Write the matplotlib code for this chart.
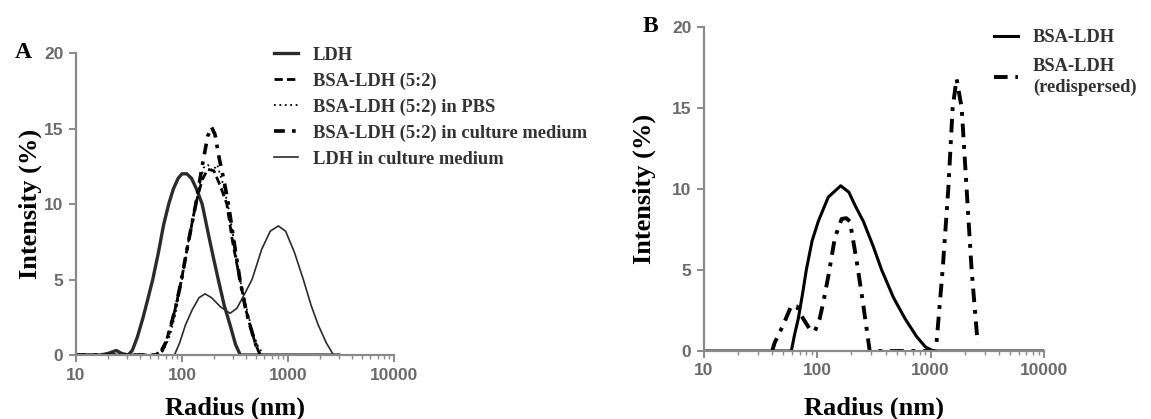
"""DLS size distributions, LDH vs BSA-LDH (panels A and B)."""
import matplotlib

matplotlib.use("Agg")
import matplotlib.pyplot as plt

SERIF = "Liberation Serif"
SANS = "Liberation Sans"
TICK_GREY = "#6a6a6a"
AXIS_GREY = "#8a8a8a"
DARK = "#2b2b2b"

# ---- Panel A -------------------------------------------------------------
ldh_r = [10, 17, 20, 24, 27, 31, 34, 38, 43, 48, 53, 60, 67, 75, 83, 92,
         100, 111, 123, 137, 155, 180, 200, 220, 250, 284, 320, 355, 3000]
ldh_i = [0, 0, 0.1, 0.3, 0.1, 0, 0.3, 1.2, 2.5, 3.8, 5.0, 6.8, 8.6, 10.0,
         11.0, 11.7, 12.0, 12.0, 11.7, 11.0, 10.0, 7.8, 6.3, 5.0, 3.3, 2.0,
         0.7, 0, 0]

bsa_r = [10, 55, 62, 70, 79, 88, 99, 115, 135, 155, 175, 200, 230, 265, 300,
         352, 400, 437, 490, 545]
bsa_i = [0, 0, 0.2, 0.8, 2.0, 3.3, 5.0, 7.5, 10.0, 11.6, 12.3, 12.2, 11.2,
         10.0, 7.5, 5.0, 3.0, 2.0, 0.8, 0]

pbs_r = [10, 60, 68, 77, 86, 99, 115, 135, 150, 160, 175, 195, 215, 240,
         274, 310, 352, 410, 460, 520, 590]
pbs_i = [0, 0, 0.4, 1.3, 2.6, 4.8, 7.5, 10.0, 11.6, 12.4, 12.6, 12.2, 12.6,
         11.5, 9.8, 7.5, 5.0, 3.0, 1.6, 0.6, 0]

cult_r = [10, 58, 65, 72, 79, 88, 99, 115, 135, 155, 175, 190, 205, 225,
          250, 274, 310, 352, 400, 437, 490, 545]
cult_i = [0, 0, 0.3, 1.0, 2.0, 3.3, 5.0, 7.5, 10.0, 12.5, 14.5, 15.1, 14.6,
          13.0, 11.5, 10.0, 7.5, 5.0, 3.0, 2.0, 0.8, 0]

ldh_cult_r = [10, 85, 95, 108, 125, 145, 165, 190, 230, 284, 330, 380, 458,
              565, 680, 811, 950, 1150, 1396, 1650, 1927, 2300, 2690, 3000]
ldh_cult_i = [0, 0, 0.8, 2.0, 3.0, 3.8, 4.05, 3.8, 3.2, 2.76, 3.1, 3.9, 5.0,
              7.0, 8.2, 8.55, 8.2, 6.8, 5.0, 3.3, 2.0, 0.8, 0, 0]

labels_a = ["LDH", "BSA-LDH (5:2)", "BSA-LDH (5:2) in PBS",
            "BSA-LDH (5:2) in culture medium", "LDH in culture medium"]

# ---- Panel B -------------------------------------------------------------
bsa_b_r = [10, 59, 63, 68, 74, 80, 90, 102, 125, 161, 190, 215, 255, 310,
           370, 470, 594, 750, 900, 1056, 10000]
bsa_b_i = [0, 0, 1.0, 2.0, 3.5, 5.0, 6.8, 8.0, 9.5, 10.2, 9.8, 9.0, 8.0, 6.5,
           5.0, 3.3, 2.0, 0.9, 0.25, 0, 0]

redisp_r = [40, 42, 50, 59, 66, 75, 85, 95, 105, 113, 125, 143, 164, 180,
            194, 222, 254, 290, 750, 1100, 1130, 1276, 1432, 1564, 1695,
            1880, 2078, 2300, 2600]
redisp_i = [0, 0.5, 1.6, 2.8, 2.75, 2.0, 1.4, 1.2, 2.0, 3.0, 4.6, 7.0, 8.15,
            8.2, 8.0, 5.6, 2.9, 0, 0, 0, 0.6, 5.0, 10.0, 15.0, 16.8, 15.0,
            10.0, 5.0, 0.5]

labels_b = ["BSA-LDH", "BSA-LDH\n(redispersed)"]


def style_axes(ax, ypad, xpad):
    ax.set_xscale("log")
    ax.set_xlim(10, 10000)
    ax.set_ylim(0, 20)
    ax.set_yticks([0, 5, 10, 15, 20])
    ax.set_xticks([10, 100, 1000, 10000])
    ax.set_xticklabels(["10", "100", "1000", "10000"])
    for side in ("top", "right"):
        ax.spines[side].set_visible(False)
    for side in ("left", "bottom"):
        ax.spines[side].set_color(AXIS_GREY)
        ax.spines[side].set_linewidth(1.6)
    ax.tick_params(which="major", length=5, width=1.4, color=AXIS_GREY,
                   labelsize=12.5, labelcolor=TICK_GREY, pad=4)
    ax.tick_params(which="minor", axis="x", length=3, width=1.0,
                   color=AXIS_GREY)
    for lab in ax.get_xticklabels() + ax.get_yticklabels():
        lab.set_fontfamily(SANS)
        lab.set_fontweight("bold")
    ax.set_xlabel("Radius (nm)", fontfamily=SERIF, fontweight="bold",
                  fontsize=19, labelpad=xpad)
    ax.set_ylabel("Intensity (%)", fontfamily=SERIF, fontweight="bold",
                  fontsize=19, labelpad=ypad)


def add_legend(fig, handles, labels, anchor, spacing):
    leg = fig.legend(handles, labels, loc="upper left", bbox_to_anchor=anchor,
                     frameon=False, borderpad=0, borderaxespad=0,
                     handlelength=1.3, handletextpad=0.8,
                     labelspacing=spacing,
                     prop={"family": SERIF, "weight": "bold", "size": 13.3},
                     labelcolor="#333333")
    for t in leg.get_texts():
        t.set_linespacing(1.3)
    return leg


def main() -> None:
    fig = plt.figure(figsize=(11.51, 4.19), dpi=100)
    ax_a = fig.add_axes([0.0660, 0.1527, 0.2763, 0.7208])
    ax_b = fig.add_axes([0.6116, 0.1623, 0.2954, 0.7733])

    # Panel A
    h1, = ax_a.plot(ldh_r, ldh_i, color=DARK, lw=2.4)
    h2, = ax_a.plot(bsa_r, bsa_i, color="black", lw=2.0,
                    linestyle=(0, (3, 1.5)))
    h3, = ax_a.plot(pbs_r, pbs_i, color="black", lw=1.3,
                    linestyle=(0, (1, 2)))
    h4, = ax_a.plot(cult_r, cult_i, color="black", lw=2.6,
                    linestyle=(0, (3, 2, 1, 2)))
    h5, = ax_a.plot(ldh_cult_r, ldh_cult_i, color=DARK, lw=1.2)
    style_axes(ax_a, ypad=1.5, xpad=10)
    add_legend(fig, [h1, h2, h3, h4, h5], labels_a, (0.238, 0.888), 0.47)

    # Panel B
    g1, = ax_b.plot(bsa_b_r, bsa_b_i, color="black", lw=2.2)
    g2, = ax_b.plot(redisp_r, redisp_i, color="black", lw=2.8,
                    linestyle=(0, (3.5, 2, 1, 2)))
    style_axes(ax_b, ypad=11.5, xpad=13)
    add_legend(fig, [g1, g2], labels_b, (0.8636, 0.930), 0.62)

    # panel letters
    fig.text(23 / 1151, 1 - 52 / 419, "A", fontfamily=SERIF,
             fontweight="bold", fontsize=17, ha="center", va="center")
    fig.text(650 / 1151, 1 - 27 / 419, "B", fontfamily=SERIF,
             fontweight="bold", fontsize=17, ha="center", va="center")

    fig.savefig("out.png", dpi=100)
    plt.close(fig)


if __name__ == "__main__":
    main()
